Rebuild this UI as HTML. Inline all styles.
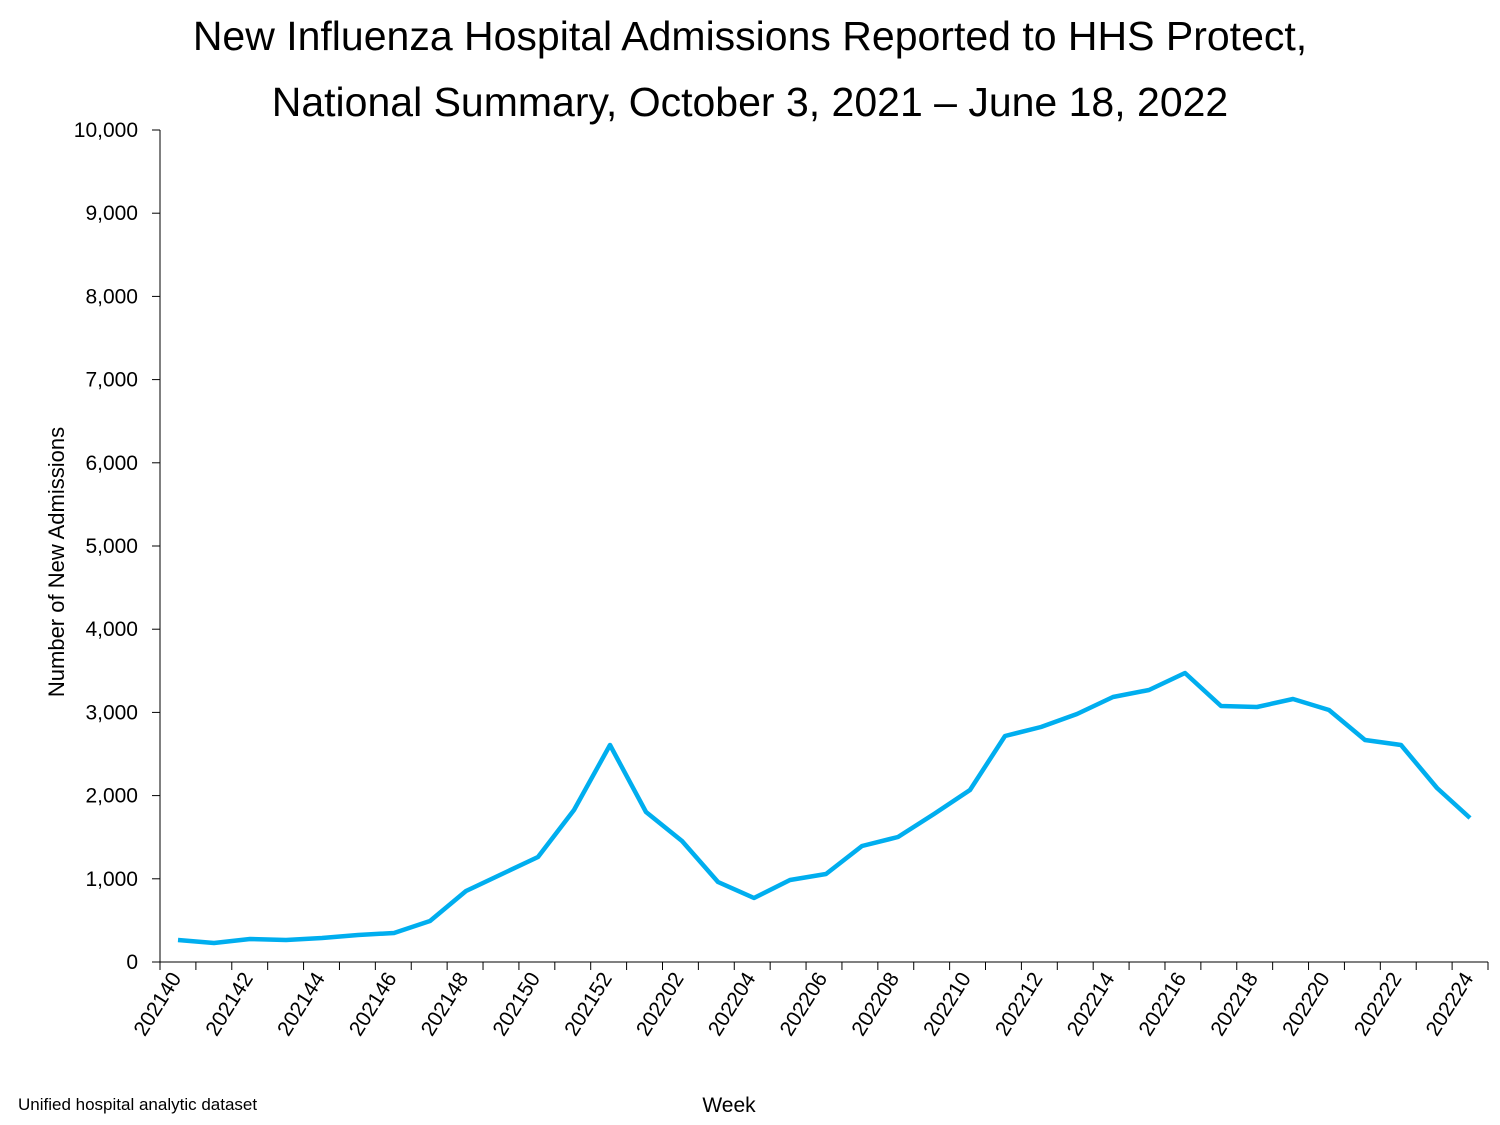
<!DOCTYPE html>
<html><head><style>body{margin:0;background:#fff}svg{display:block}text{font-family:"Liberation Sans","DejaVu Sans",sans-serif;fill:#000}</style></head>
<body>
<svg width="1500" height="1125" viewBox="0 0 1500 1125">
<text x="750" y="50" font-size="41" text-anchor="middle">New Influenza Hospital Admissions Reported to HHS Protect,</text>
<text x="750" y="116" font-size="41" text-anchor="middle">National Summary, October 3, 2021 – June 18, 2022</text>
<g stroke="#000" stroke-width="1">
<line x1="160" y1="130" x2="160" y2="962"/>
<line x1="160" y1="962" x2="1488" y2="962"/>
</g>
<g id="yt" font-size="21" text-anchor="end"></g>
<g id="xt" font-size="21"></g>
<text transform="translate(64,562) rotate(-90)" font-size="22" text-anchor="middle">Number of New Admissions</text>
<text x="729" y="1112" font-size="21" text-anchor="middle">Week</text>
<text x="18" y="1110" font-size="17">Unified hospital analytic dataset</text>
<polyline fill="none" stroke="#00AEEF" stroke-width="4.5" stroke-linejoin="round" points="178,940 214,943 250,939 286,940 322,938 358,935 394,933 430,921 466,891 502,874 538,857 574,810 610,745 646,812 682,841 718,882 754,898 790,880 826,874 862,846 898,837 934,814 970,790 1005,736 1041,727 1077,714 1113,697 1149,690 1185,673 1221,706 1257,707 1293,699 1329,710 1365,740 1401,745 1437,788 1470,818"/>
<g stroke="#000" stroke-width="1" id="ticks"></g>
</svg>
<script>
var ns="http://www.w3.org/2000/svg";
var yt=document.getElementById('yt'),tk=document.getElementById('ticks'),xt=document.getElementById('xt');
function el(n,a,p,t){var e=document.createElementNS(ns,n);for(var k in a)e.setAttribute(k,a[k]);if(t)e.textContent=t;p.appendChild(e);}
for(var i=0;i<=10;i++){var y=962-i*83.2;el('line',{x1:152,y1:y,x2:160,y2:y},tk);el('text',{x:138,y:y+7},yt,(i*1000).toLocaleString('en-US'));}
var w=1328/37;
for(var i=0;i<=37;i++){var x=160+i*w;el('line',{x1:x,y1:962,x2:x,y2:970},tk);}
var labs=['202140','202142','202144','202146','202148','202150','202152','202202','202204','202206','202208','202210','202212','202214','202216','202218','202220','202222','202224'];
for(var j=0;j<labs.length;j++){var cx=160+(2*j+0.5)*w;el('text',{transform:'translate('+(cx+4)+',978) rotate(-58)','text-anchor':'end'},xt,labs[j]);}
</script>
</body></html>
